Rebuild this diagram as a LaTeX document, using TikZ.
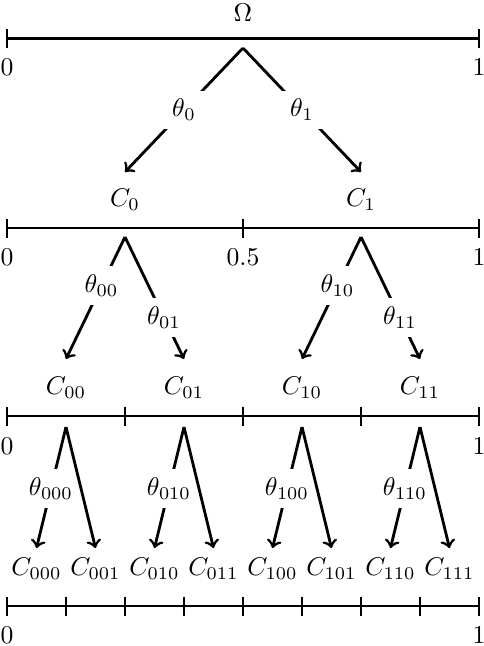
\documentclass[tikz,border=0pt]{standalone}
\begin{document}
\begin{tikzpicture}[x=0.39pt,y=-0.39pt,line width=1.1pt,
  lbl/.style={fill=white},
  txt/.style={inner sep=0pt},
  arr/.style={->}]
\useasboundingbox (0,0) rectangle (484,646);
% horizontal lines with ticks
\foreach \yy/\n in {38.5/1,228/2,416/4,606/8}{
  \draw (7,\yy) -- (479,\yy);
  \pgfmathsetmacro{\stp}{472/\n}
  \foreach \k in {0,...,\n}{
    \draw (7+\k*\stp,\yy-9.5) -- (7+\k*\stp,\yy+9.5);
  }
}
% axis labels
\node[txt] (o) at (243,13) {$\Omega$};
\node[txt] (a0) at (7,67) {$0$};
\node[txt] (a1) at (479,67) {$1$};
\node[txt] (b0) at (7,257) {$0$};
\node[txt] (bh) at (243,257) {$0.5$};
\node[txt] (b1) at (479,257) {$1$};
\node[txt] (c0) at (7,446) {$0$};
\node[txt] (c1) at (479,446) {$1$};
\node[txt] (d0) at (7,635) {$0$};
\node[txt] (d1) at (479,635) {$1$};
% level 1
\node[txt] (C0) at (125,200) {$C_0$};
\node[txt] (C1) at (361,200) {$C_1$};
\coordinate (p) at (243,48);
\coordinate (t0) at (125,172);
\coordinate (t1) at (361,172);
\draw[arr] (p) -- node[lbl,pos=0.5]{$\theta_0$} (t0);
\draw[arr] (p) -- node[lbl,pos=0.5]{$\theta_1$} (t1);
% level 2
\foreach \nm/\xx in {00/66,01/184,10/302,11/420}{
  \node[txt] (C\nm) at (\xx,388) {$C_{\nm}$};
  \coordinate (t\nm) at (\xx,359);
}
\foreach \nm/\xx in {0/125,1/361}{
  \coordinate (p\nm) at (\xx,237);
  \draw[arr] (p\nm) -- node[lbl,pos=0.4]{$\theta_{\nm0}$} (t\nm0);
  \draw[arr] (p\nm) -- node[lbl,pos=0.66]{$\theta_{\nm1}$} (t\nm1);
}
% level 3
\foreach \nm/\xx in {000/36.5,001/95.5,010/154.5,011/213.5,100/272.5,101/331.5,110/390.5,111/449.5}{
  \node[txt] (C\nm) at (\xx,569) {$C_{\nm}$};
  \coordinate (t\nm) at (\xx,548);
}
\foreach \nm/\xx in {00/66,01/184,10/302,11/420}{
  \coordinate (p\nm) at (\xx,427);
  \draw[arr] (p\nm) -- node[lbl,pos=0.51]{$\theta_{\nm0}$} (t\nm0);
  \draw[arr] (p\nm) -- (t\nm1);
}
\end{tikzpicture}
\end{document}
